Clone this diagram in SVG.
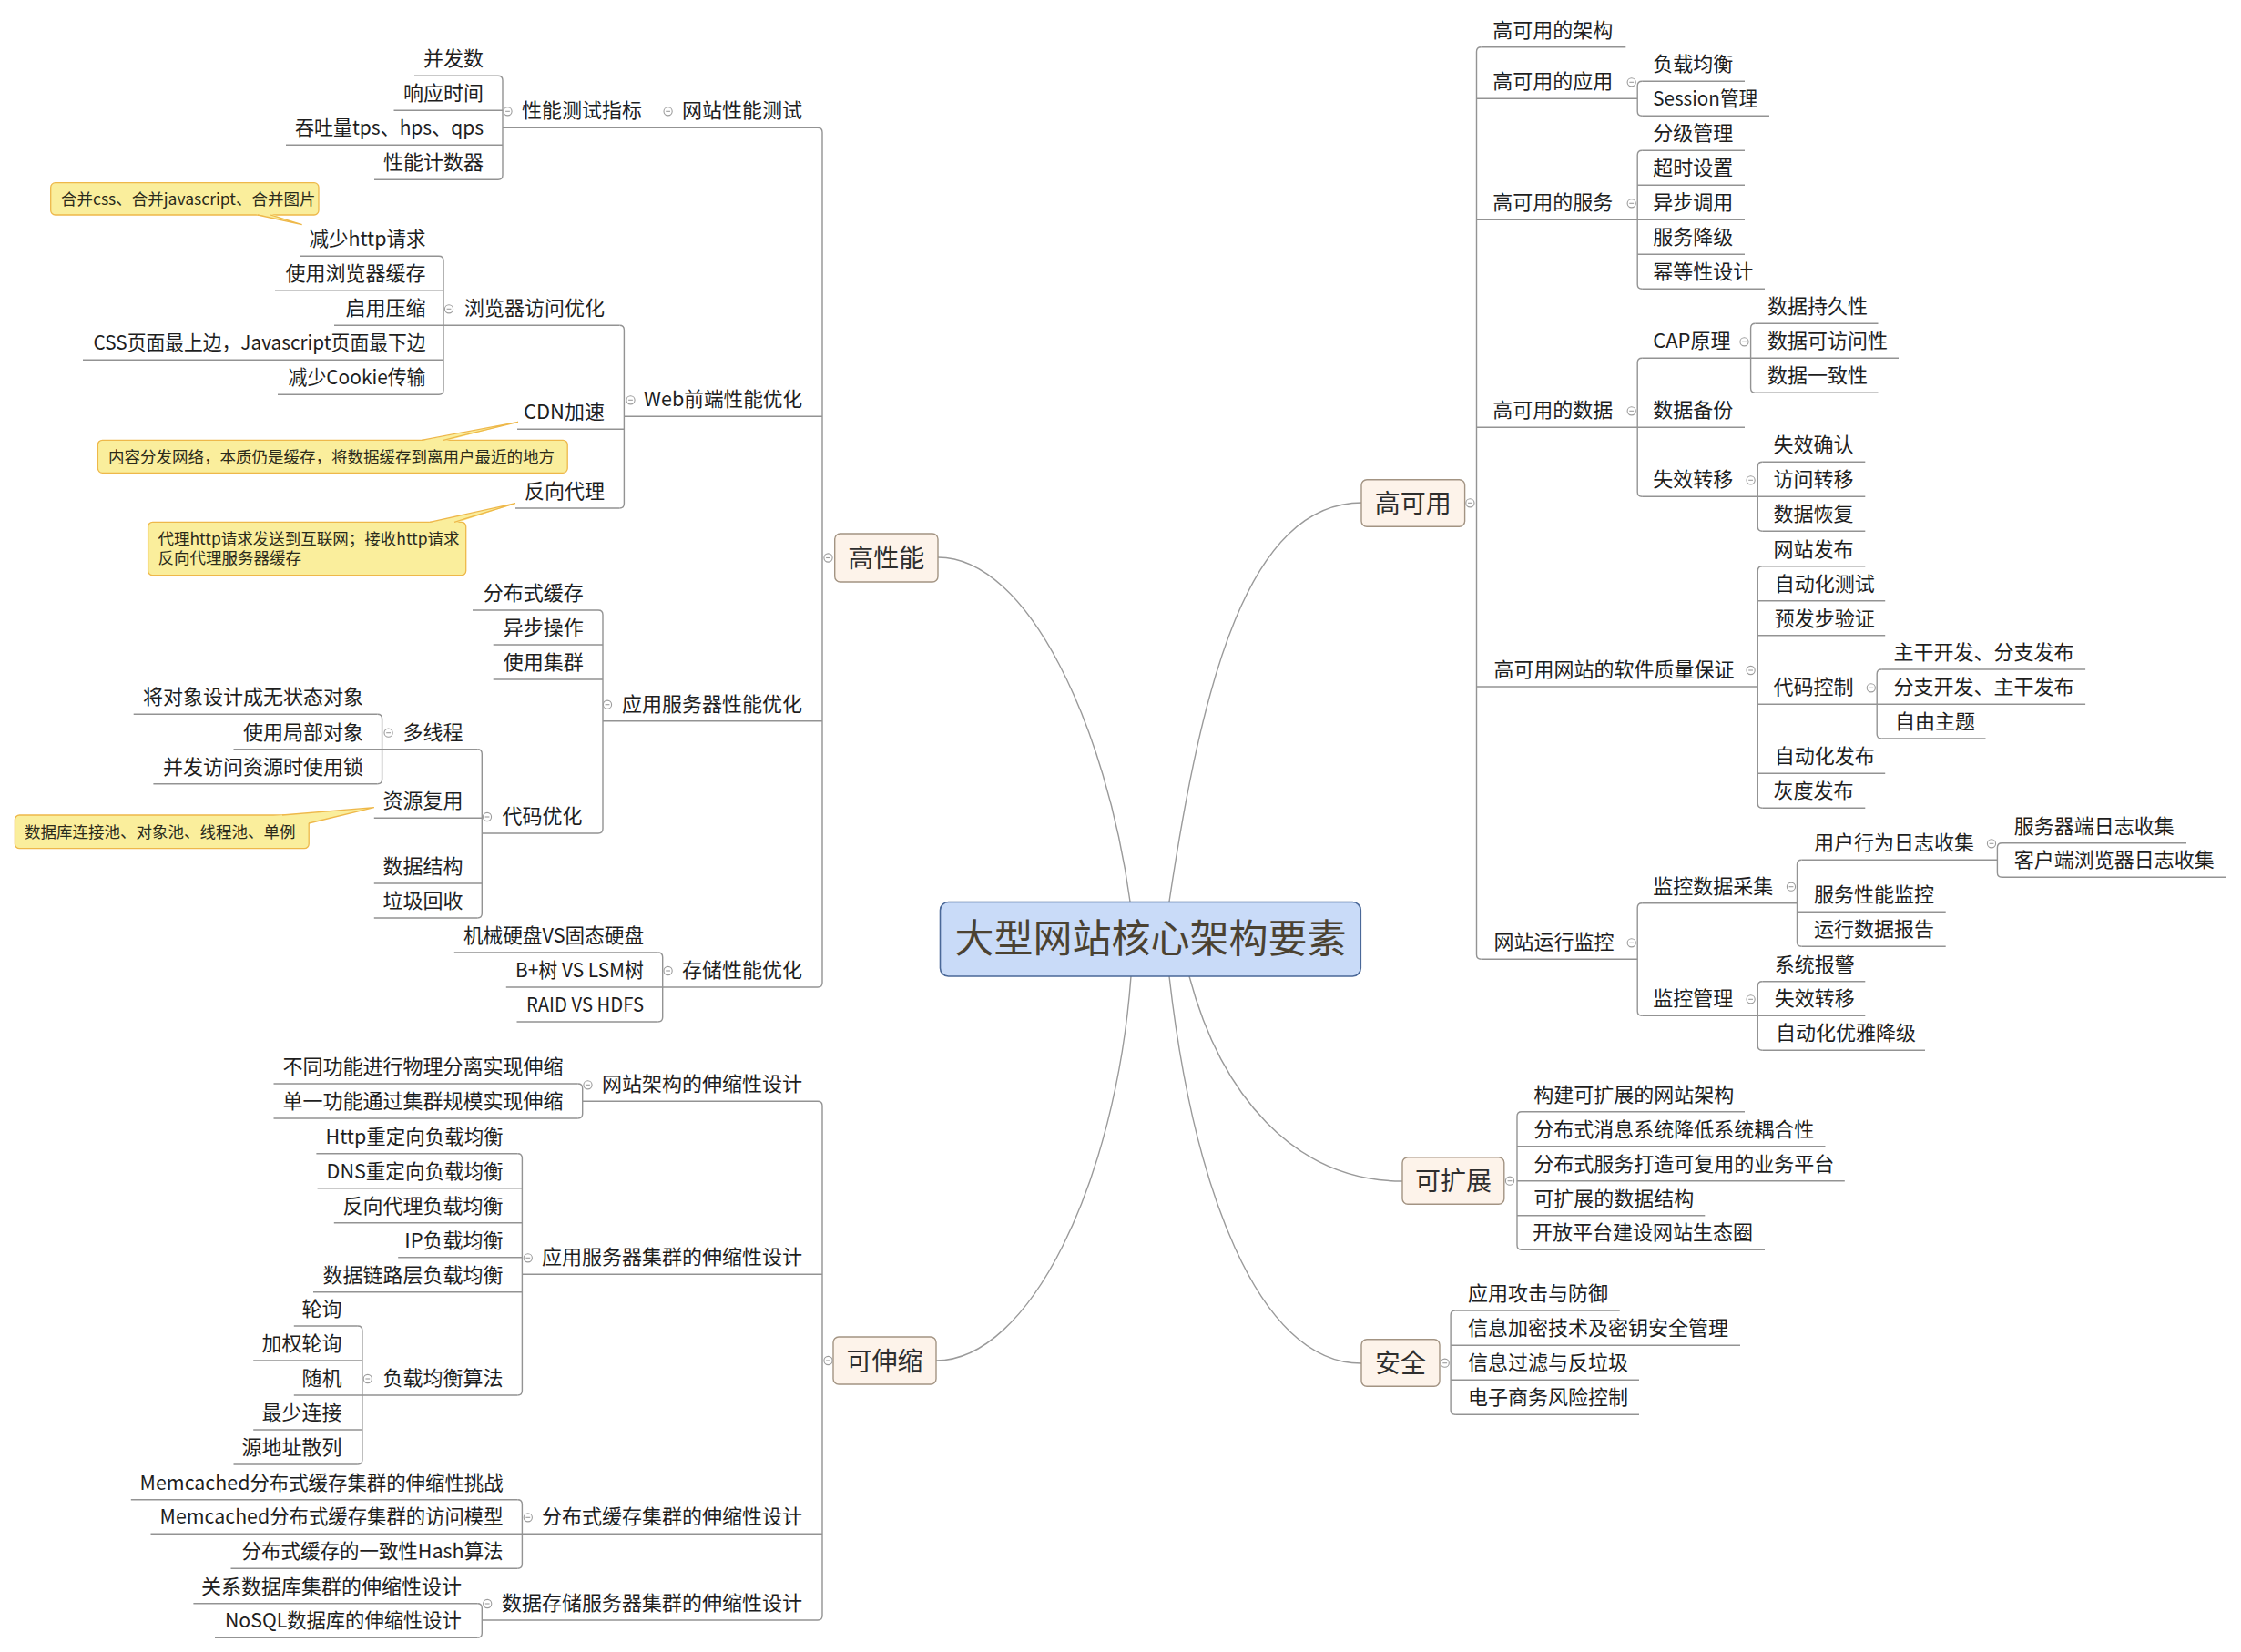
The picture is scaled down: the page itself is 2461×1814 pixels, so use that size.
<svg xmlns="http://www.w3.org/2000/svg" xmlns:xlink="http://www.w3.org/1999/xlink" width="2461" height="1814" viewBox="0 0 2461 1814">
<style>
  text { font-family: "Noto Sans CJK SC", "Liberation Sans", sans-serif; fill: #1e1e1e; }
  .t { font-size: 22px; }
  .e { text-anchor: end; }
  .m { text-anchor: middle; }
  .br { font-size: 28px; fill: #2e2e2e; }
  .nt { font-size: 17.5px; fill: #2a2a1a; }
  .root { font-size: 43px; fill: #4b4232; }
  .ln { fill: none; stroke: #939393; stroke-width: 1.4; }
  .cv { fill: none; stroke: #9a9a9a; stroke-width: 1.4; }
  .box { fill: #fdf3ea; stroke: #a39483; stroke-width: 1.4; }
  .rootbox { fill: #c9dbf8; stroke: #4a6898; stroke-width: 1.6; }
  .note { fill: #faee9c; stroke: #eeb84a; stroke-width: 1.3; }
  .tail { fill: #faee9c; stroke: none; }
  .tailedge { fill: none; stroke: #eeb84a; stroke-width: 1.3; }
</style>
<defs>
  <g id="cb">
    <circle cx="0" cy="0" r="4.6" fill="#fff" stroke="#9c9c9c" stroke-width="1.1"/>
    <path d="M-2.4,0 H2.4" stroke="#9c9c9c" stroke-width="1.1"/>
  </g>
</defs>
<rect width="2461" height="1814" fill="#fff"/>

<!-- connectors: curves from the central topic, branch verticals and topic underlines -->
<g id="connectors">
  <path class="cv" d="M1241,990 C1215,800 1130,612 1030,612"/>
  <path class="cv" d="M1242,1072 C1225,1300 1130,1494 1028,1494"/>
  <path class="cv" d="M1284,990 C1320,750 1370,552 1496,552"/>
  <path class="cv" d="M1284,1072 C1310,1300 1380,1497 1495,1497"/>
  <path class="cv" d="M1306,1072 C1340,1200 1420,1297 1540,1297"/>

  <!-- 高性能 -->
  <path class="ln" d="M898,140.3 Q903,140.3 903,145.3 V1079 Q903,1084 898,1084"/>
  <path class="ln" d="M552,140.3 H898"/>
  <path class="ln" d="M547,83.3 Q552,83.3 552,88.3 V192.3 Q552,197.3 547,197.3"/>
  <path class="ln" d="M455,83.3 H547 M432.5,121.3 H552 M314,159.3 H552 M411,197.3 H547"/>
  <path class="ln" d="M685.4,457.3 H903"/>
  <path class="ln" d="M680.4,357.3 Q685.4,357.3 685.4,362.3 V553 Q685.4,558 680.4,558"/>
  <path class="ln" d="M487,357.3 H680.4 M568,471.3 H685.4 M566,558 H680.4"/>
  <path class="ln" d="M482,281.3 Q487,281.3 487,286.3 V428.3 Q487,433.3 482,433.3"/>
  <path class="ln" d="M330,281.3 H482 M302,319.3 H487 M367,357.3 H487 M91,395.3 H487 M305,433.3 H482"/>
  <path class="ln" d="M662,791.7 H903"/>
  <path class="ln" d="M657,670 Q662,670 662,675 V910 Q662,915 657,915"/>
  <path class="ln" d="M519,670 H657 M541.7,708 H662 M541.7,746 H662 M529.3,915 H657"/>
  <path class="ln" d="M524.3,822.7 Q529.3,822.7 529.3,827.7 V1003 Q529.3,1008 524.3,1008"/>
  <path class="ln" d="M419.6,822.7 H524.3 M410.8,898.3 H529.3 M410.8,970 H529.3 M410.8,1008 H524.3"/>
  <path class="ln" d="M414.6,784.3 Q419.6,784.3 419.6,789.3 V855.7 Q419.6,860.7 414.6,860.7"/>
  <path class="ln" d="M146.7,784.3 H414.6 M256.5,822.7 H419.6 M168.4,860.7 H414.6"/>
  <path class="ln" d="M727.7,1084 H898"/>
  <path class="ln" d="M722.7,1046 Q727.7,1046 727.7,1051 V1117 Q727.7,1122 722.7,1122"/>
  <path class="ln" d="M498.8,1046 H722.7 M555.8,1084 H727.7 M567.5,1122 H722.7"/>

  <!-- 可伸缩 -->
  <path class="ln" d="M898,1209.3 Q903,1209.3 903,1214.3 V1774 Q903,1779 898,1779"/>
  <path class="ln" d="M639.7,1209.3 H898"/>
  <path class="ln" d="M634.7,1190 Q639.7,1190 639.7,1195 V1223 Q639.7,1228 634.7,1228"/>
  <path class="ln" d="M300.5,1190 H634.7 M300.5,1228 H634.7"/>
  <path class="ln" d="M573.4,1399.3 H903"/>
  <path class="ln" d="M568.4,1266.7 Q573.4,1266.7 573.4,1271.7 V1527 Q573.4,1532 568.4,1532"/>
  <path class="ln" d="M347.4,1266.7 H568.4 M348.6,1304.7 H573.4 M366.8,1342.7 H573.4 M437.2,1380.7 H573.4 M344,1418.7 H573.4 M397.9,1532 H568.4"/>
  <path class="ln" d="M392.9,1456 Q397.9,1456 397.9,1461 V1603 Q397.9,1608 392.9,1608"/>
  <path class="ln" d="M322.8,1456 H392.9 M278.2,1494 H397.9 M322.8,1532 H397.9 M278.2,1570 H397.9 M256.5,1608 H392.9"/>
  <path class="ln" d="M573.4,1684.3 H903"/>
  <path class="ln" d="M568.4,1646.7 Q573.4,1646.7 573.4,1651.7 V1717.3 Q573.4,1722.3 568.4,1722.3"/>
  <path class="ln" d="M143.8,1646.7 H568.4 M165.5,1684.3 H573.4 M253.5,1722.3 H568.4"/>
  <path class="ln" d="M529.3,1779 H898"/>
  <path class="ln" d="M524.3,1760.7 Q529.3,1760.7 529.3,1765.7 V1793.3 Q529.3,1798.3 524.3,1798.3"/>
  <path class="ln" d="M212.4,1760.7 H524.3 M236,1798.3 H524.3"/>

  <!-- 高可用 -->
  <path class="ln" d="M1626.5,51.7 Q1621.5,51.7 1621.5,56.7 V1048.3 Q1621.5,1053.3 1626.5,1053.3"/>
  <path class="ln" d="M1626.5,51.7 H1785.3"/>
  <path class="ln" d="M1621.5,108.3 H1798.2"/>
  <path class="ln" d="M1803.2,89.3 Q1798.2,89.3 1798.2,94.3 V122.3 Q1798.2,127.3 1803.2,127.3"/>
  <path class="ln" d="M1803.2,89.3 H1916 M1803.2,127.3 H1943"/>
  <path class="ln" d="M1621.5,241.3 H1798.2"/>
  <path class="ln" d="M1803.2,165.3 Q1798.2,165.3 1798.2,170.3 V312.3 Q1798.2,317.3 1803.2,317.3"/>
  <path class="ln" d="M1803.2,165.3 H1916 M1798.2,203.3 H1916 M1798.2,241.3 H1916 M1798.2,279.3 H1916 M1803.2,317.3 H1938"/>
  <path class="ln" d="M1621.5,469.3 H1798.2"/>
  <path class="ln" d="M1803.2,393.3 Q1798.2,393.3 1798.2,398.3 V540.3 Q1798.2,545.3 1803.2,545.3"/>
  <path class="ln" d="M1803.2,393.3 H1922.6 M1798.2,469.3 H1916 M1803.2,545.3 H1930.3"/>
  <path class="ln" d="M1927.6,355.3 Q1922.6,355.3 1922.6,360.3 V426.3 Q1922.6,431.3 1927.6,431.3"/>
  <path class="ln" d="M1927.6,355.3 H2062.5 M1922.6,393.3 H2085 M1927.6,431.3 H2062.5"/>
  <path class="ln" d="M1935.3,507.3 Q1930.3,507.3 1930.3,512.3 V578.3 Q1930.3,583.3 1935.3,583.3"/>
  <path class="ln" d="M1935.3,507.3 H2048.3 M1930.3,545.3 H2048.3 M1935.3,583.3 H2048.3"/>
  <path class="ln" d="M1621.5,754 H1930.3"/>
  <path class="ln" d="M1935.3,621.7 Q1930.3,621.7 1930.3,626.7 V882.3 Q1930.3,887.3 1935.3,887.3"/>
  <path class="ln" d="M1935.3,621.7 H2048.3 M1930.3,659.7 H2070.2 M1930.3,697.7 H2070.2 M1930.3,773.3 H2061.2 M1930.3,849.3 H2070.2 M1935.3,887.3 H2048.3"/>
  <path class="ln" d="M2066.2,735 Q2061.2,735 2061.2,740 V806 Q2061.2,811 2066.2,811"/>
  <path class="ln" d="M2066.2,735 H2290.1 M2061.2,773.3 H2290.1 M2066.2,811 H2180.5"/>
  <path class="ln" d="M1626.5,1053.3 H1798.2"/>
  <path class="ln" d="M1803.2,991.7 Q1798.2,991.7 1798.2,996.7 V1110.3 Q1798.2,1115.3 1803.2,1115.3"/>
  <path class="ln" d="M1803.2,991.7 H1973.5 M1803.2,1115.3 H1930.3"/>
  <path class="ln" d="M1978.5,944.3 Q1973.5,944.3 1973.5,949.3 V1034.3 Q1973.5,1039.3 1978.5,1039.3"/>
  <path class="ln" d="M1978.5,944.3 H2193.4 M1973.5,1001.3 H2136.7 M1978.5,1039.3 H2136.7"/>
  <path class="ln" d="M2198.4,925.7 Q2193.4,925.7 2193.4,930.7 V958.3 Q2193.4,963.3 2198.4,963.3"/>
  <path class="ln" d="M2198.4,925.7 H2401 M2198.4,963.3 H2444.8"/>
  <path class="ln" d="M1935.3,1077.7 Q1930.3,1077.7 1930.3,1082.7 V1148.3 Q1930.3,1153.3 1935.3,1153.3"/>
  <path class="ln" d="M1935.3,1077.7 H2048.3 M1930.3,1115.3 H2048.3 M1935.3,1153.3 H2114"/>

  <!-- 可扩展 -->
  <path class="ln" d="M1671,1220.7 Q1666,1220.7 1666,1225.7 V1367.3 Q1666,1372.3 1671,1372.3"/>
  <path class="ln" d="M1671,1220.7 H1916 M1666,1258.7 H2004.5 M1666,1296.7 H2025.8 M1666,1334.7 H1872.3 M1671,1372.3 H1938"/>

  <!-- 安全 -->
  <path class="ln" d="M1598.1,1439 Q1593.1,1439 1593.1,1444 V1548.3 Q1593.1,1553.3 1598.1,1553.3"/>
  <path class="ln" d="M1598.1,1439 H1778.8 M1593.1,1477.3 H1911 M1593.1,1515.3 H1800 M1598.1,1553.3 H1800"/>
</g>

<!-- central topic -->
<g id="root">
  <rect class="rootbox" x="1032.5" y="990.5" width="461.8" height="81.5" rx="9"/>
  <text class="root m" x="1263.5" y="1046">大型网站核心架构要素</text>
</g>

<!-- main branches -->
<g id="b-perf">
  <rect class="box" x="916.7" y="586" width="113.3" height="53" rx="6"/>
  <text class="br m" x="973.3" y="623">高性能</text>
  <use xlink:href="#cb" x="909.5" y="612.5"/>
</g>
<g id="b-scale">
  <rect class="box" x="915" y="1468" width="113" height="52" rx="6"/>
  <text class="br m" x="971.5" y="1504.5">可伸缩</text>
  <use xlink:href="#cb" x="909.5" y="1494"/>
</g>
<g id="b-ha">
  <rect class="box" x="1495" y="526.7" width="113.6" height="51.6" rx="6"/>
  <text class="br m" x="1551.8" y="563">高可用</text>
  <use xlink:href="#cb" x="1614.4" y="552.3"/>
</g>
<g id="b-ext">
  <rect class="box" x="1540" y="1270.7" width="111.8" height="51.6" rx="6"/>
  <text class="br m" x="1595.9" y="1307">可扩展</text>
  <use xlink:href="#cb" x="1658" y="1296.7"/>
</g>
<g id="b-sec">
  <rect class="box" x="1495" y="1470.7" width="86" height="51.6" rx="6"/>
  <text class="br m" x="1538" y="1507">安全</text>
  <use xlink:href="#cb" x="1586.7" y="1496.7"/>
</g>

<!-- 高性能 subtopics -->
<g id="p1"><text class="t e" x="881" y="129.3">网站性能测试</text><use xlink:href="#cb" x="733.6" y="122.3"/></g>
<g id="p1-1"><text class="t e" x="705" y="129.3">性能测试指标</text><use xlink:href="#cb" x="557.5" y="122.3"/></g>
<g id="p1-1-1"><text class="t e" x="531" y="72.3">并发数</text></g>
<g id="p1-1-2"><text class="t e" x="531" y="110.3">响应时间</text></g>
<g id="p1-1-3"><text class="t e" x="531" y="148.3" textLength="207" lengthAdjust="spacingAndGlyphs">吞吐量tps、hps、qps</text></g>
<g id="p1-1-4"><text class="t e" x="531" y="186.3">性能计数器</text></g>
<g id="p2"><text class="t e" x="881" y="446.3" textLength="174" lengthAdjust="spacingAndGlyphs">Web前端性能优化</text><use xlink:href="#cb" x="692.5" y="439.3"/></g>
<g id="p2-1"><text class="t e" x="664" y="346.3">浏览器访问优化</text><use xlink:href="#cb" x="493" y="339.3"/></g>
<g id="p2-1-1">
  <rect class="note" x="55.7" y="200.7" width="294.3" height="35.3" rx="5"/>
  <path class="tail" d="M281,235 L298,235 L331.7,246.7 Z"/>
  <path class="tailedge" d="M283,236 L331.7,246.7 L297,236"/>
  <text class="nt" x="67" y="224.8">合并css、合并javascript、合并图片</text>
  <text class="t e" x="467.5" y="270.3" textLength="128" lengthAdjust="spacingAndGlyphs">减少http请求</text>
</g>
<g id="p2-1-2"><text class="t e" x="467.5" y="308.3">使用浏览器缓存</text></g>
<g id="p2-1-3"><text class="t e" x="467.5" y="346.3">启用压缩</text></g>
<g id="p2-1-4"><text class="t e" x="467.5" y="384.3" textLength="365" lengthAdjust="spacingAndGlyphs">CSS页面最上边，Javascript页面最下边</text></g>
<g id="p2-1-5"><text class="t e" x="467.5" y="422.3" textLength="151" lengthAdjust="spacingAndGlyphs">减少Cookie传输</text></g>
<g id="p2-2">
  <text class="t e" x="664" y="460.3">CDN加速</text>
  <rect class="note" x="107.4" y="483.3" width="515.8" height="36" rx="5"/>
  <path class="tail" d="M461,484.3 L489,484.3 L569,463.3 Z"/>
  <path class="tailedge" d="M463,483.3 L569,463.3 L487,483.3"/>
  <text class="nt" x="119" y="508.2">内容分发网络，本质仍是缓存，将数据缓存到离用户最近的地方</text>
</g>
<g id="p2-3">
  <text class="t e" x="664" y="547">反向代理</text>
  <rect class="note" x="162.6" y="573.3" width="349.1" height="58.4" rx="5"/>
  <path class="tail" d="M470,574.3 L501,574.3 L566,552.7 Z"/>
  <path class="tailedge" d="M472,573.3 L566,552.7 L499,573.3"/>
  <text class="nt" x="173.5" y="598.2">代理http请求发送到互联网；接收http请求</text>
  <text class="nt" x="173.5" y="619.2">反向代理服务器缓存</text>
</g>
<g id="p3"><text class="t e" x="881" y="780.7">应用服务器性能优化</text><use xlink:href="#cb" x="667" y="773.7"/></g>
<g id="p3-1"><text class="t e" x="640.7" y="659">分布式缓存</text></g>
<g id="p3-2"><text class="t e" x="640.7" y="697">异步操作</text></g>
<g id="p3-3"><text class="t e" x="640.7" y="735">使用集群</text></g>
<g id="p3-4"><text class="t e" x="639.5" y="904">代码优化</text><use xlink:href="#cb" x="535" y="897"/></g>
<g id="p3-4-1"><text class="t e" x="508.6" y="811.7">多线程</text><use xlink:href="#cb" x="426.6" y="804.7"/></g>
<g id="p3-4-1-1"><text class="t e" x="399" y="773.3">将对象设计成无状态对象</text></g>
<g id="p3-4-1-2"><text class="t e" x="399" y="811.7">使用局部对象</text></g>
<g id="p3-4-1-3"><text class="t e" x="399" y="849.7">并发访问资源时使用锁</text></g>
<g id="p3-4-2">
  <text class="t e" x="508.6" y="887.3">资源复用</text>
  <rect class="note" x="16.4" y="895" width="322.8" height="36.7" rx="5"/>
  <path class="tail" d="M300,896 L338,904 L410.8,886.7 Z"/>
  <path class="tailedge" d="M310,895 L410.8,886.7 L339,904"/>
  <text class="nt" x="27" y="920">数据库连接池、对象池、线程池、单例</text>
</g>
<g id="p3-4-3"><text class="t e" x="508.6" y="959">数据结构</text></g>
<g id="p3-4-4"><text class="t e" x="508.6" y="997">垃圾回收</text></g>
<g id="p4"><text class="t e" x="881" y="1073">存储性能优化</text><use xlink:href="#cb" x="733.6" y="1066"/></g>
<g id="p4-1"><text class="t e" x="707" y="1035" textLength="198" lengthAdjust="spacingAndGlyphs">机械硬盘VS固态硬盘</text></g>
<g id="p4-2"><text class="t e" x="707" y="1073" textLength="141" lengthAdjust="spacingAndGlyphs">B+树 VS LSM树</text></g>
<g id="p4-3"><text class="t e" x="707" y="1111" textLength="129" lengthAdjust="spacingAndGlyphs">RAID VS HDFS</text></g>

<!-- 可伸缩 subtopics -->
<g id="s1"><text class="t e" x="881" y="1198.3">网站架构的伸缩性设计</text><use xlink:href="#cb" x="645.5" y="1191.3"/></g>
<g id="s1-1"><text class="t e" x="618.4" y="1179">不同功能进行物理分离实现伸缩</text></g>
<g id="s1-2"><text class="t e" x="618.4" y="1217">单一功能通过集群规模实现伸缩</text></g>
<g id="s2"><text class="t e" x="881" y="1388.3">应用服务器集群的伸缩性设计</text><use xlink:href="#cb" x="579.8" y="1381.3"/></g>
<g id="s2-1"><text class="t e" x="552.6" y="1255.7" textLength="195" lengthAdjust="spacingAndGlyphs">Http重定向负载均衡</text></g>
<g id="s2-2"><text class="t e" x="552.6" y="1293.7" textLength="194" lengthAdjust="spacingAndGlyphs">DNS重定向负载均衡</text></g>
<g id="s2-3"><text class="t e" x="552.6" y="1331.7">反向代理负载均衡</text></g>
<g id="s2-4"><text class="t e" x="552.6" y="1369.7">IP负载均衡</text></g>
<g id="s2-5"><text class="t e" x="552.6" y="1407.7">数据链路层负载均衡</text></g>
<g id="s2-6"><text class="t e" x="552.6" y="1521">负载均衡算法</text><use xlink:href="#cb" x="403.8" y="1514"/></g>
<g id="s2-6-1"><text class="t e" x="375.4" y="1445">轮询</text></g>
<g id="s2-6-2"><text class="t e" x="375.4" y="1483">加权轮询</text></g>
<g id="s2-6-3"><text class="t e" x="375.4" y="1521">随机</text></g>
<g id="s2-6-4"><text class="t e" x="375.4" y="1559">最少连接</text></g>
<g id="s2-6-5"><text class="t e" x="375.4" y="1597">源地址散列</text></g>
<g id="s3"><text class="t e" x="881" y="1673.3">分布式缓存集群的伸缩性设计</text><use xlink:href="#cb" x="579.8" y="1666.3"/></g>
<g id="s3-1"><text class="t e" x="552.6" y="1635.7" textLength="399" lengthAdjust="spacingAndGlyphs">Memcached分布式缓存集群的伸缩性挑战</text></g>
<g id="s3-2"><text class="t e" x="552.6" y="1673.3" textLength="377" lengthAdjust="spacingAndGlyphs">Memcached分布式缓存集群的访问模型</text></g>
<g id="s3-3"><text class="t e" x="552.6" y="1711.3" textLength="287" lengthAdjust="spacingAndGlyphs">分布式缓存的一致性Hash算法</text></g>
<g id="s4"><text class="t e" x="881" y="1768">数据存储服务器集群的伸缩性设计</text><use xlink:href="#cb" x="535.2" y="1761"/></g>
<g id="s4-1"><text class="t e" x="506.9" y="1749.7">关系数据库集群的伸缩性设计</text></g>
<g id="s4-2"><text class="t e" x="506.9" y="1787.3" textLength="260" lengthAdjust="spacingAndGlyphs">NoSQL数据库的伸缩性设计</text></g>

<!-- 高可用 subtopics -->
<g id="h1"><text class="t" x="1639.2" y="40.7">高可用的架构</text></g>
<g id="h2"><text class="t" x="1639.2" y="97.3">高可用的应用</text><use xlink:href="#cb" x="1791.7" y="90.3"/></g>
<g id="h2-1"><text class="t" x="1815.2" y="78.3">负载均衡</text></g>
<g id="h2-2"><text class="t" x="1815.2" y="116.3" textLength="115" lengthAdjust="spacingAndGlyphs">Session管理</text></g>
<g id="h3"><text class="t" x="1639.2" y="230.3">高可用的服务</text><use xlink:href="#cb" x="1791.7" y="223.3"/></g>
<g id="h3-1"><text class="t" x="1815.2" y="154.3">分级管理</text></g>
<g id="h3-2"><text class="t" x="1815.2" y="192.3">超时设置</text></g>
<g id="h3-3"><text class="t" x="1815.2" y="230.3">异步调用</text></g>
<g id="h3-4"><text class="t" x="1815.2" y="268.3">服务降级</text></g>
<g id="h3-5"><text class="t" x="1815.2" y="306.3">幂等性设计</text></g>
<g id="h4"><text class="t" x="1639.2" y="458.3">高可用的数据</text><use xlink:href="#cb" x="1791.7" y="451.3"/></g>
<g id="h4-1"><text class="t" x="1815.2" y="382.3">CAP原理</text><use xlink:href="#cb" x="1915.5" y="375.3"/></g>
<g id="h4-1-1"><text class="t" x="1941" y="344.3">数据持久性</text></g>
<g id="h4-1-2"><text class="t" x="1941" y="382.3">数据可访问性</text></g>
<g id="h4-1-3"><text class="t" x="1941" y="420.3">数据一致性</text></g>
<g id="h4-2"><text class="t" x="1815.2" y="458.3">数据备份</text></g>
<g id="h4-3"><text class="t" x="1815.2" y="534.3">失效转移</text><use xlink:href="#cb" x="1922.6" y="527.3"/></g>
<g id="h4-3-1"><text class="t" x="1947.4" y="496.3">失效确认</text></g>
<g id="h4-3-2"><text class="t" x="1947.4" y="534.3">访问转移</text></g>
<g id="h4-3-3"><text class="t" x="1947.4" y="572.3">数据恢复</text></g>
<g id="h5"><text class="t" x="1640.5" y="743">高可用网站的软件质量保证</text><use xlink:href="#cb" x="1922.6" y="736"/></g>
<g id="h5-1"><text class="t" x="1947.4" y="610.7">网站发布</text></g>
<g id="h5-2"><text class="t" x="1948.7" y="648.7">自动化测试</text></g>
<g id="h5-3"><text class="t" x="1948.7" y="686.7">预发步验证</text></g>
<g id="h5-4"><text class="t" x="1947.4" y="762.3">代码控制</text><use xlink:href="#cb" x="2054.8" y="755.3"/></g>
<g id="h5-4-1"><text class="t" x="2079.6" y="724">主干开发、分支发布</text></g>
<g id="h5-4-2"><text class="t" x="2079.6" y="762.3">分支开发、主干发布</text></g>
<g id="h5-4-3"><text class="t" x="2080.9" y="800">自由主题</text></g>
<g id="h5-5"><text class="t" x="1948.7" y="838.3">自动化发布</text></g>
<g id="h5-6"><text class="t" x="1947.4" y="876.3">灰度发布</text></g>
<g id="h6"><text class="t" x="1640.5" y="1042.3">网站运行监控</text><use xlink:href="#cb" x="1791.7" y="1035.3"/></g>
<g id="h6-1"><text class="t" x="1815.2" y="980.7">监控数据采集</text><use xlink:href="#cb" x="1967" y="973.7"/></g>
<g id="h6-1-1"><text class="t" x="1991.9" y="933.3">用户行为日志收集</text><use xlink:href="#cb" x="2187" y="926.3"/></g>
<g id="h6-1-1-1"><text class="t" x="2211.7" y="914.7">服务器端日志收集</text></g>
<g id="h6-1-1-2"><text class="t" x="2211.7" y="952.3">客户端浏览器日志收集</text></g>
<g id="h6-1-2"><text class="t" x="1991.9" y="990.3">服务性能监控</text></g>
<g id="h6-1-3"><text class="t" x="1991.9" y="1028.3">运行数据报告</text></g>
<g id="h6-2"><text class="t" x="1815.2" y="1104.3">监控管理</text><use xlink:href="#cb" x="1922.6" y="1097.3"/></g>
<g id="h6-2-1"><text class="t" x="1948.7" y="1066.7">系统报警</text></g>
<g id="h6-2-2"><text class="t" x="1948.7" y="1104.3">失效转移</text></g>
<g id="h6-2-3"><text class="t" x="1950" y="1142.3">自动化优雅降级</text></g>

<!-- 可扩展 subtopics -->
<g id="x1"><text class="t" x="1684.3" y="1209.7">构建可扩展的网站架构</text></g>
<g id="x2"><text class="t" x="1684.3" y="1247.7">分布式消息系统降低系统耦合性</text></g>
<g id="x3"><text class="t" x="1684.3" y="1285.7">分布式服务打造可复用的业务平台</text></g>
<g id="x4"><text class="t" x="1684.3" y="1323.7">可扩展的数据结构</text></g>
<g id="x5"><text class="t" x="1683" y="1361.3">开放平台建设网站生态圈</text></g>

<!-- 安全 subtopics -->
<g id="a1"><text class="t" x="1612" y="1428">应用攻击与防御</text></g>
<g id="a2"><text class="t" x="1612" y="1466.3">信息加密技术及密钥安全管理</text></g>
<g id="a3"><text class="t" x="1612" y="1504.3">信息过滤与反垃圾</text></g>
<g id="a4"><text class="t" x="1612" y="1542.3">电子商务风险控制</text></g>
</svg>
